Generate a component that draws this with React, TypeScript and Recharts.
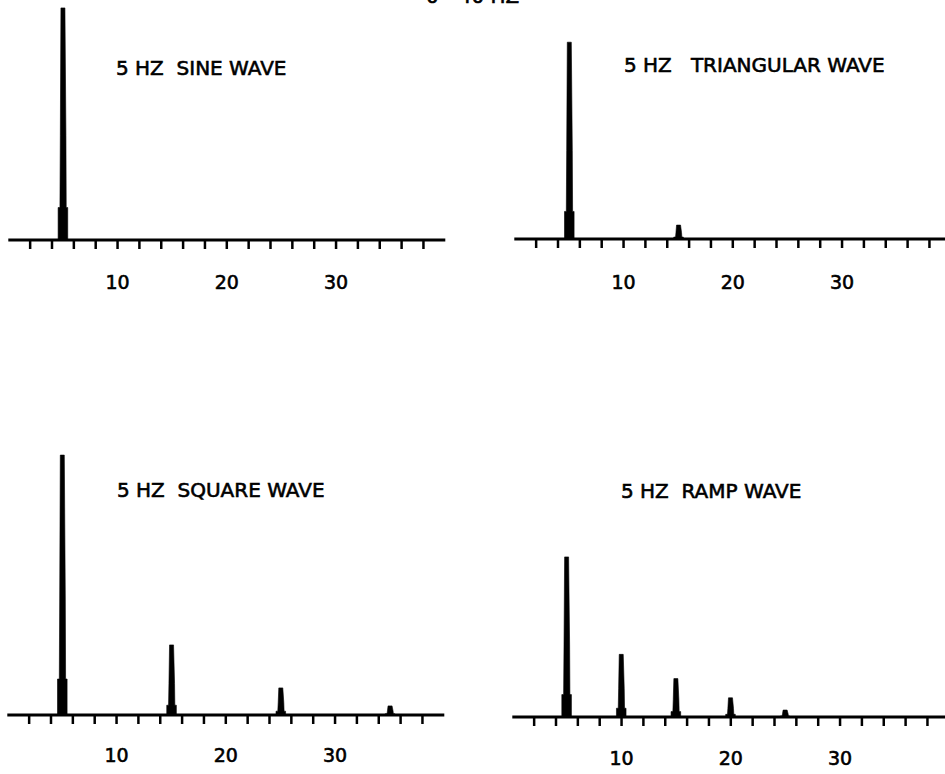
import React from 'react';
import { ComposedChart, Bar, XAxis, YAxis } from 'recharts';

// ---- data ----
const axisTicks = [2, 4, 6, 8, 10, 12, 14, 16, 18, 20, 22, 24, 26, 28, 30, 32, 34, 36, 38];
const labelledTicks = [10, 20, 30];

const sineFreq = [5];
const sineAmp = [96.7];

const triFreq = [5, 15];
const triAmp = [82, 5.8];

const squareFreq = [5, 15, 25, 35];
const squareAmp = [108.3, 29.2, 11.3, 3.8];

const rampFreq = [5, 10, 15, 20, 25];
const rampAmp = [66.7, 26.1, 16, 8, 2.9];

const panelTitles = ['5 HZ  SINE WAVE', '5 HZ   TRIANGULAR WAVE', '5 HZ  SQUARE WAVE', '5 HZ  RAMP WAVE'];
const topTitle = '0 - 40 HZ';

const build = (f: number[], a: number[]) => f.map((hz, i) => ({ hz, amp: a[i] }));

const FONT = '"DejaVu Sans", Verdana, sans-serif';

const Spike = (props: any) => {
  const { x, y, width, height } = props;
  if (!height || height <= 0) return null;
  const cx = x + width / 2;
  const b = y + height;
  const baseH = Math.min(height * 0.14, 36);
  const midH = height * 0.45;
  const d = [
    `M ${cx - 2} ${y}`,
    `L ${cx + 2} ${y}`,
    `L ${cx + 3} ${b - midH}`,
    `L ${cx + 3.3} ${b - baseH}`,
    `L ${cx + 4.8} ${b - baseH}`,
    `L ${cx + 4.8} ${b}`,
    `L ${cx - 4.8} ${b}`,
    `L ${cx - 4.8} ${b - baseH}`,
    `L ${cx - 3} ${b - baseH}`,
    `L ${cx - 2.6} ${b - midH}`,
    'Z',
  ].join(' ');
  return <path d={d} fill="#000" stroke="#000" strokeWidth={0.6} />;
};

const W = 460;
const H = 348;

function Panel({ data, left, top, tickMargin }: { data: any[]; left: number; top: number; tickMargin: number }) {
  return (
    <div style={{ position: 'absolute', left, top, width: W, height: H }}>
      <ComposedChart width={W} height={H} data={data} margin={{ top: 0, right: 14.7, left: 8.3, bottom: 0 }}>
        <XAxis
          dataKey="hz"
          type="number"
          domain={[0, 40]}
          ticks={axisTicks}
          interval={0}
          height={60}
          axisLine={{ stroke: '#000', strokeWidth: 3 }}
          tickLine={{ stroke: '#000', strokeWidth: 2.5 }}
          tickSize={9}
          tickMargin={tickMargin}
          tick={{ fill: '#000', fontSize: 19, fontFamily: FONT, stroke: '#000', strokeWidth: 0.6 }}
          tickFormatter={(v: number) => (labelledTicks.includes(v) ? String(v) : '')}
          allowDecimals={false}
        />
        <YAxis hide domain={[0, 120]} width={0} />
        <Bar dataKey="amp" barSize={10} fill="#000" shape={<Spike />} isAnimationActive={false} />
      </ComposedChart>
    </div>
  );
}

const titleStyle: React.CSSProperties = { whiteSpace: 'pre' };

export default function App() {
  return (
    <div
      style={{
        position: 'absolute',
        left: 0,
        top: 0,
        width: 945,
        height: 774,
        overflow: 'hidden',
        background: '#fff',
      }}
    >
      <Panel data={build(sineFreq, sineAmp)} left={0} top={-48} tickMargin={27} />
      <Panel data={build(triFreq, triAmp)} left={506} top={-49} tickMargin={28} />
      <Panel data={build(squareFreq, squareAmp)} left={-1.3} top={427} tickMargin={25} />
      <Panel data={build(rampFreq, rampAmp)} left={504.4} top={428.7} tickMargin={26} />
      <svg
        width={945}
        height={774}
        style={{ position: 'absolute', left: 0, top: 0, pointerEvents: 'none' }}
      >
        <g fontFamily={FONT} fontSize={20} fill="#000" stroke="#000" strokeWidth={0.6}>
          <text x={426} y={3} xmlSpace="preserve" style={titleStyle}>{topTitle}</text>
          <text x={116} y={75} xmlSpace="preserve" style={titleStyle}>{panelTitles[0]}</text>
          <text x={624} y={72} xmlSpace="preserve" style={titleStyle}>{panelTitles[1]}</text>
          <text x={117} y={497} xmlSpace="preserve" style={titleStyle}>{panelTitles[2]}</text>
          <text x={621} y={498} xmlSpace="preserve" style={titleStyle}>{panelTitles[3]}</text>
        </g>
      </svg>
    </div>
  );
}
